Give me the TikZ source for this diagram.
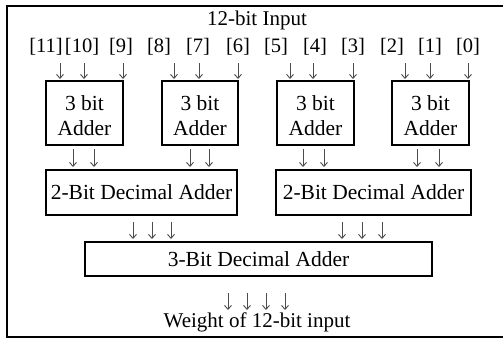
\documentclass[tikz,border=0pt]{standalone}
\usepackage{fontspec}
\setmainfont{Liberation Serif}
\usetikzlibrary{arrows.meta}
\newcommand{\adderlabel}{\raisebox{-10pt}[0pt][0pt]{\begin{tabular}{@{}c@{}}3 bit\\Adder\end{tabular}}}
\begin{document}
\begin{tikzpicture}[x=1pt,y=-1pt,
  box/.style={draw,line width=1.8pt,inner sep=0pt,align=center,font=\fontsize{21.5}{25}\selectfont},
  lbl/.style={inner sep=0pt,font=\fontsize{21}{25}\selectfont},
  bitlbl/.style={inner sep=0pt,font=\fontsize{20.5}{24}\selectfont},
  arr/.style={draw=black!70,line width=0.9pt,-{Straight Barb[length=4pt,width=7pt,line width=0.9pt]}}]
\useasboundingbox (0,0) rectangle (503,338);
\draw[line width=2pt] (506,6) -- (7,6) -- (7,337) -- (506,337);
% title
\node[lbl] (title) at (257,20.5) {12-bit Input};
% bit labels
\foreach \t/\x [count=\i] in {[11]/46,[10]/82,[9]/121,[8]/159,[7]/198,[6]/238,[5]/276,[4]/315,[3]/353,[2]/392,[1]/430,[0]/468}
  \node[bitlbl] (l\i) at (\x,47) {\t};
% 3-bit adders
\node[box,minimum width=77,minimum height=64] (b1) at (84.5,113) {\adderlabel};
\node[box,minimum width=76,minimum height=64] (b2) at (200,113) {\adderlabel};
\node[box,minimum width=77,minimum height=64] (b3) at (315.5,113) {\adderlabel};
\node[box,minimum width=77,minimum height=64] (b4) at (430.5,113) {\adderlabel};
% 2-bit decimal adders
\node[box,minimum width=191,minimum height=45] (da) at (141.5,192.5) {2-Bit Decimal Adder};
\node[box,minimum width=195,minimum height=45] (db) at (373.5,192.5) {2-Bit Decimal Adder};
% 3-bit decimal adder
\node[box,minimum width=347,minimum height=34] (dc) at (258.5,259) {3-Bit Decimal Adder};
% output
\node[lbl] (out) at (257,322) {Weight of 12-bit input};
% input arrows
\foreach \x [count=\i] in {60,84,123,174,199,238,290,313,353,405,430,468}{
  \coordinate (ia\i) at (\x,63);
  \coordinate (ib\i) at (\x,79);
  \draw[arr] (ia\i) -- (ib\i);
}
% 3-bit to 2-bit arrows
\foreach \x [count=\i] in {73,94,190,209,303,324,417,439}{
  \coordinate (ma\i) at (\x,149);
  \coordinate (mb\i) at (\x,167);
  \draw[arr] (ma\i) -- (mb\i);
}
% 2-bit to 3-bit decimal arrows
\foreach \x [count=\i] in {133,152,171,342,362,382}{
  \coordinate (na\i) at (\x,222);
  \coordinate (nb\i) at (\x,239);
  \draw[arr] (na\i) -- (nb\i);
}
% output arrows
\foreach \x [count=\i] in {228,247,266,285}{
  \coordinate (oa\i) at (\x,293);
  \coordinate (ob\i) at (\x,310);
  \draw[arr] (oa\i) -- (ob\i);
}
\end{tikzpicture}
\end{document}
